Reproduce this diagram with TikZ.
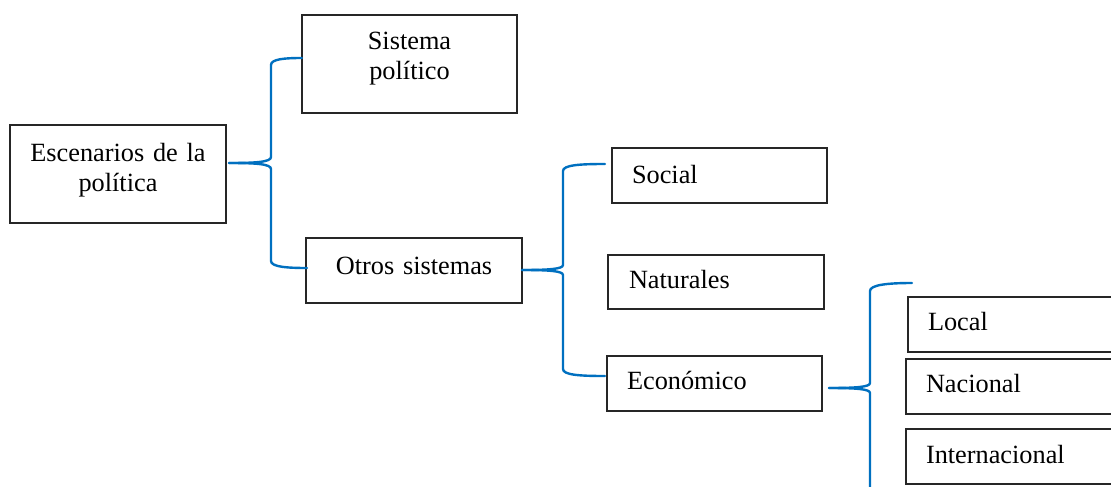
\documentclass[tikz,border=0pt]{standalone}
\usepackage{fontspec}
\setmainfont{Liberation Serif}
\definecolor{braceblue}{RGB}{0,112,192}
\tikzset{
  box/.style={draw=black!85, line width=1.6pt, outer sep=0pt, inner ysep=0pt, anchor=north west},
  cbox/.style={box, align=center},
  lbox/.style={box, align=left, inner xsep=20pt, text width=175pt},
  brace/.style={draw=braceblue, line width=2.4pt, line cap=round}
}
\begin{document}
\begin{tikzpicture}[x=1pt, y=-1pt, font=\fontsize{26.3}{30}\selectfont]
\clip (0,0) rectangle (1111,487);
\fill[white] (0,0) rectangle (1111,487);

\node[cbox, inner xsep=5pt, text width=206pt, text height=36pt, text depth=62pt] (esc) at (10,125) {Escenarios de la\\pol\'{\i}tica};
\node[cbox, inner xsep=5pt, text width=205pt, text height=34pt, text depth=64pt] (sis) at (302,15) {Sistema\\pol\'{\i}tico};
\node[cbox, inner xsep=5pt, text width=206pt, text height=36pt, text depth=29pt] (otros) at (306,238) {Otros sistemas};

\node[lbox, text height=35pt, text depth=20pt] (social) at (612,148) {Social};
\node[lbox, inner xsep=21pt, text width=174pt, text height=33pt, text depth=21pt] (nat) at (608,255) {Naturales};
\node[lbox, text height=33pt, text depth=22pt] (econ) at (607,356) {Econ\'omico};

\node[lbox, text height=33pt, text depth=22pt] (local) at (908,297) {Local};
\node[lbox, text height=33pt, text depth=22pt] (nac) at (906,359) {Nacional};
\node[lbox, text height=34pt, text depth=21pt] (inter) at (906,429) {Internacional};

% brace 1
\path[brace] ([xshift=3pt,yshift=11pt]esc.east) .. controls (256,163) and (271,162) .. (271,157)
  -- (271,65) .. controls (271,59) and (285,58) .. ([yshift=6pt]sis.west);
\path[brace] ([xshift=3pt,yshift=11pt]esc.east) .. controls (256,163) and (271,164) .. (271,169)
  -- (271,261) .. controls (271,267) and (288,268) .. ([xshift=1pt,yshift=2.5pt]otros.west);

% brace 2
\path[brace] ([yshift=0.5pt]otros.east) .. controls (549,270) and (563,269) .. (563,265)
  -- (563,171) .. controls (563,165) and (580,164) .. ([xshift=-7pt,yshift=11.5pt]social.west);
\path[brace] ([yshift=0.5pt]otros.east) .. controls (549,270) and (563,271) .. (563,275)
  -- (563,369) .. controls (563,375) and (580,376) .. ([xshift=-2pt,yshift=7.5pt]econ.west);

% brace 3
\coordinate (b3top) at (912,283);
\coordinate (b3bot) at (870,492);
\path[brace] ([xshift=7pt,yshift=-4.5pt]econ.east) .. controls (856,388) and (870,387) .. (870,383)
  -- (870,291) .. controls (870,285) and (887,283) .. (b3top);
\path[brace] ([xshift=7pt,yshift=-4.5pt]econ.east) .. controls (856,388) and (870,389) .. (870,393)
  -- (b3bot);
\end{tikzpicture}
\end{document}
